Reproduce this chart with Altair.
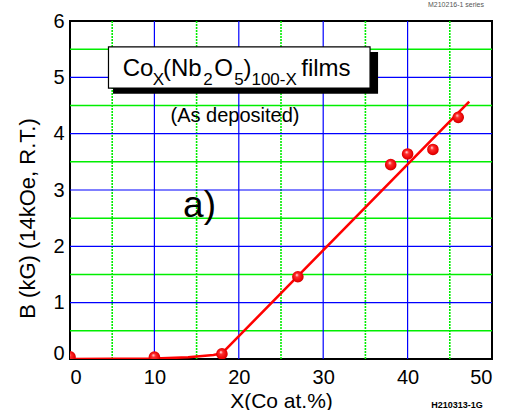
import altair as alt
import pandas as pd

# ---- data ----
co_x = [0, 10, 18, 27, 38, 40, 43, 46]
b_kg = [0.04, 0.035, 0.09, 1.46, 3.45, 3.64, 3.72, 4.29]

fit_x = [0, 10, 14, 17, 18, 47.3]
fit_y = [0.0, 0.01, 0.03, 0.07, 0.10, 4.57]

x_major = [10, 20, 30, 40]
x_minor = [5, 15, 25, 35, 45]
y_major = [1, 2, 3, 4, 5]
y_minor = [0.5, 1.5, 2.5, 3.5, 4.5, 5.5]

x_ticks = [0, 10, 20, 30, 40, 50]
y_ticks = [0, 1, 2, 3, 4, 5, 6]

# title pieces (formula with subscripts)
title_text = ["Co", "X", "(Nb", "2", "O", "5", ")", "100-X", "films"]
title_x = [6.24, 9.80, 11.02, 15.8, 17.1, 19.45, 20.55, 21.5, 27.4]
title_y = [5.03, 4.87, 5.03, 4.87, 5.03, 4.87, 5.03, 4.87, 5.03]
title_size = [24, 17, 24, 17, 24, 17, 24, 17, 24]

box_x = [4.56]; box_x2 = [35.55]; box_y = [5.54]; box_y2 = [4.81]
shadow_x = [5.1]; shadow_x2 = [36.5]; shadow_y = [5.45]; shadow_y2 = [4.71]

FONT = "Liberation Sans"

xs = alt.Scale(domain=[0, 50], nice=False, zero=False)
ys = alt.Scale(domain=[0, 6], nice=False, zero=False)

df = pd.DataFrame({"x": co_x, "y": b_kg})
fit = pd.DataFrame({"x": fit_x, "y": fit_y})

xaxis = alt.Axis(values=x_ticks, grid=False, ticks=False, domain=False, format="d",
                 labelFont=FONT, labelFontSize=20, labelColor="black", labelPadding=8,
                 title="X(Co at.%)", titleFont=FONT, titleFontSize=21, titleFontWeight="normal",
                 titleColor="black", titleBaseline="alphabetic", titleY=48)
yaxis = alt.Axis(values=y_ticks, grid=False, ticks=False, domain=False, format="d",
                 labelFont=FONT, labelFontSize=20, labelColor="black", labelPadding=6,
                 labelOffset={"condition": {"test": "datum.value === 0", "value": -6}, "value": 0},
                 title="B (kG) (14kOe, R.T.)", titleFont=FONT, titleFontSize=22,
                 titleFontWeight="normal", titleColor="black", titleAngle=-90,
                 titleAlign="center", titleBaseline="middle", titleX=-43, titleY=197)


def X():
    return alt.X("x:Q", scale=xs, axis=xaxis, title="X(Co at.%)")


def Y():
    return alt.Y("y:Q", scale=ys, axis=yaxis, title="B (kG) (14kOe, R.T.)")


# grid layers
gx_minor = alt.Chart(pd.DataFrame({"x": x_minor})).mark_rule(
    color="#00ee00", strokeWidth=1.6, strokeDash=[2, 1]).encode(x=X())
gy_minor = alt.Chart(pd.DataFrame({"y": y_minor})).mark_rule(
    color="#00ee00", strokeWidth=1.5).encode(y=Y())
gx_major = alt.Chart(pd.DataFrame({"x": x_major})).mark_rule(
    color="#0000ff", strokeWidth=1.2).encode(x=X())
gy_major = alt.Chart(pd.DataFrame({"y": y_major})).mark_rule(
    color="#0000ff", strokeWidth=1.2).encode(y=Y())

line = alt.Chart(fit).mark_line(color="#ff0000", strokeWidth=2.6, clip=True).encode(
    x=X(), y=Y())

ball_fill = {"gradient": "radial", "x1": 0.4, "y1": 0.33, "r1": 0.0,
             "x2": 0.5, "y2": 0.5, "r2": 0.55,
             "stops": [{"offset": 0.0, "color": "#ffffff"},
                       {"offset": 0.28, "color": "#ff3030"},
                       {"offset": 0.8, "color": "#e80000"},
                       {"offset": 1.0, "color": "#b00000"}]}
points = alt.Chart(df).mark_point(shape="circle", filled=True, size=135, opacity=1,
                                  fill=ball_fill, strokeWidth=0, clip=True).encode(
    x=X(), y=Y())

shadow = alt.Chart(pd.DataFrame({"x": shadow_x, "x2": shadow_x2, "y": shadow_y, "y2": shadow_y2})).mark_rect(
    color="black").encode(x=X(), x2="x2", y=Y(), y2="y2")
box = alt.Chart(pd.DataFrame({"x": box_x, "x2": box_x2, "y": box_y, "y2": box_y2})).mark_rect(
    fill="white", stroke="black", strokeWidth=1.2).encode(x=X(), x2="x2", y=Y(), y2="y2")

tdf = pd.DataFrame({"t": title_text, "x": title_x, "y": title_y, "s": title_size})
title_txt = alt.Chart(tdf).mark_text(align="left", baseline="alphabetic", font=FONT,
                                     color="black").encode(
    x=X(), y=Y(), text="t:N", size=alt.Size("s:Q", scale=None, legend=None))

sub = alt.Chart(pd.DataFrame({"t": ["(As deposited)"], "x": [19.55], "y": [4.21]})).mark_text(
    align="center", baseline="alphabetic", font=FONT, fontSize=20, color="black").encode(
    x=X(), y=Y(), text="t:N")

panel = alt.Chart(pd.DataFrame({"t": ["a)"], "x": [13.4], "y": [2.52]})).mark_text(
    align="left", baseline="alphabetic", font=FONT, fontSize=37, color="black").encode(
    x=X(), y=Y(), text="t:N")

stamp_top = alt.Chart(pd.DataFrame({"t": ["M210216-1 series"]})).mark_text(
    align="center", baseline="middle", font=FONT, fontSize=7, color="#555555").encode(
    x=alt.value(386), y=alt.value(-16), text="t:N")
stamp_bot = alt.Chart(pd.DataFrame({"t": ["H210313-1G"]})).mark_text(
    align="center", baseline="middle", font=FONT, fontSize=9, fontWeight="bold", color="black").encode(
    x=alt.value(387), y=alt.value(384), text="t:N")

chart = alt.layer(gx_minor, gy_minor, gx_major, gy_major, line, points, shadow, box,
                  title_txt, sub, panel, stamp_top, stamp_bot).properties(
    width=422, height=338,
    autosize=alt.AutoSizeParams(type="none"),
    padding={"left": 70, "top": 21, "right": 13, "bottom": 51},
    background="white",
).configure_view(stroke="black", strokeWidth=2)

chart.save("out.html", embed_options={"renderer": "svg", "actions": False})
